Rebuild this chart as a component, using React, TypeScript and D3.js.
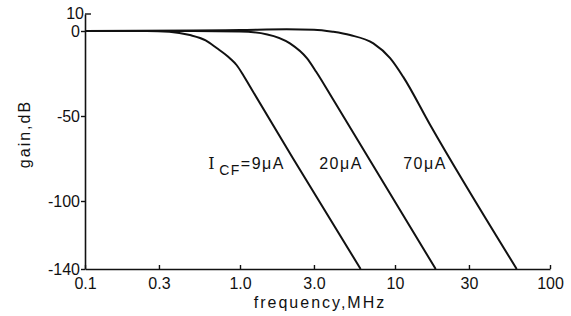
import React, { useEffect, useRef } from "react";
import * as d3 from "d3";

// gain curves (frequency in MHz, gain in dB)
const freq9 = [0.1, 0.25, 0.35, 0.475, 0.6, 0.707, 0.86, 0.95, 1.05, 1.16, 2.2, 6.0];
const gain9 = [0, 0, -0.4, -2.4, -5.5, -10, -16, -20, -26, -32.7, -75, -140];

const freq20 = [0.1, 0.5, 1.0, 1.5, 2.1, 2.7, 3.1, 4.0, 18.3];
const gain20 = [0, 0, -0.3, -2, -7.3, -16, -24, -40.5, -140];

const freq70 = [0.1, 0.5, 1.0, 2.0, 3.0, 4.0, 5.13, 7.25, 9.3, 11.3, 16.8, 61];
const gain70 = [0, 0.3, 0.6, 1, 0.8, -0.5, -2.4, -7.3, -16, -27, -55, -140];

const xTicks = [0.1, 0.3, 1, 3, 10, 30, 100];
const xTickLabels = ["0.1", "0.3", "1.0", "3.0", "10", "30", "100"];
const yTicks = [0, -50, -100, -140];
const yTopTick = 10;

const curveLabels = ["=9μA", "20μA", "70μA"];
const labelFreq = [1.95, 6.2, 21.6]; // right end of each label
const labelGain = -81;

const W = 571;
const H = 316;

const GainChart = () => {
  const svgRef = useRef(null);

  useEffect(() => {
    const svg = d3.select(svgRef.current);
    svg.selectAll("*").remove();

    const font = "'Liberation Sans', Arial, sans-serif";
    const ink = "#111";

    const x = d3.scaleLog().domain([0.1, 100]).range([85, 550]);
    const y = d3.scaleLinear().domain([-140, 10]).range([269, 14]);

    // x axis, ticks pointing up
    const xa = svg
      .append("g")
      .attr("transform", `translate(0,${y(-140)})`)
      .call(
        d3
          .axisBottom(x)
          .tickValues(xTicks)
          .tickFormat((d, i) => xTickLabels[i])
          .tickSizeInner(-4)
          .tickSizeOuter(0)
          .tickPadding(9)
      );
    xa.select(".domain").attr("stroke", ink).attr("stroke-width", 1.6);
    xa.selectAll("line").attr("stroke", ink).attr("stroke-width", 1.4);
    xa.selectAll("text")
      .style("font-family", font)
      .style("font-size", "16px")
      .attr("fill", ink);

    // y axis
    const ya = svg
      .append("g")
      .attr("transform", `translate(${x(0.1)},0)`)
      .call(
        d3
          .axisLeft(y)
          .tickValues(yTicks)
          .tickFormat((d) => `${d}`)
          .tickSizeInner(4)
          .tickSizeOuter(0)
          .tickPadding(1)
      );
    ya.select(".domain").attr("stroke", ink).attr("stroke-width", 1.6);
    ya.selectAll("line").attr("stroke", ink).attr("stroke-width", 1.4);
    ya.selectAll("text")
      .style("font-family", font)
      .style("font-size", "16px")
      .attr("fill", ink);

    // top tick at 10 points right
    ya.append("line")
      .attr("x1", 0)
      .attr("x2", 6)
      .attr("y1", y(yTopTick))
      .attr("y2", y(yTopTick))
      .attr("stroke", ink)
      .attr("stroke-width", 1.4);
    ya.append("text")
      .attr("x", -1)
      .attr("y", y(yTopTick))
      .attr("dy", "0.32em")
      .attr("text-anchor", "end")
      .style("font-family", font)
      .style("font-size", "16px")
      .attr("fill", ink)
      .text(yTopTick);

    // curves
    const line = d3
      .line()
      .x((d) => x(d[0]))
      .y((d) => y(d[1]))
      .curve(d3.curveMonotoneX);

    const series = [
      [freq9, gain9],
      [freq20, gain20],
      [freq70, gain70],
    ];
    series.forEach(([f, g]) => {
      svg
        .append("path")
        .datum(f.map((v, i) => [v, g[i]]))
        .attr("fill", "none")
        .attr("stroke", ink)
        .attr("stroke-width", 2)
        .attr("stroke-linejoin", "round")
        .attr("d", line);
    });

    // curve labels
    curveLabels.forEach((lab, i) => {
      const t = svg
        .append("text")
        .attr("x", x(labelFreq[i]))
        .attr("y", y(labelGain))
        .attr("text-anchor", "end")
        .style("font-family", font)
        .style("font-size", "16px")
        .style("letter-spacing", "1.5px")
        .attr("fill", ink);
      if (i === 0) {
        t.append("tspan").style("font-family", "'DejaVu Serif', serif").text("I");
        t.append("tspan").attr("dx", 3).attr("dy", 6).style("font-size", "14px").text("CF");
        t.append("tspan").attr("dy", -6).text(lab);
      } else {
        t.text(lab);
      }
    });

    // axis titles
    svg
      .append("text")
      .attr("transform", `translate(30,134) rotate(-90)`)
      .attr("text-anchor", "middle")
      .style("font-family", font)
      .style("font-size", "16px")
      .style("letter-spacing", "2px")
      .attr("fill", ink)
      .text("gain,dB");

    svg
      .append("text")
      .attr("x", 320)
      .attr("y", 308)
      .attr("text-anchor", "middle")
      .style("font-family", font)
      .style("font-size", "16px")
      .style("letter-spacing", "2px")
      .attr("fill", ink)
      .text("frequency,MHz");
  }, []);

  return (
    <svg
      ref={svgRef}
      width={W}
      height={H}
      style={{ position: "absolute", left: 0, top: 0, background: "#fff" }}
    />
  );
};

export default function App() {
  return <GainChart />;
}
